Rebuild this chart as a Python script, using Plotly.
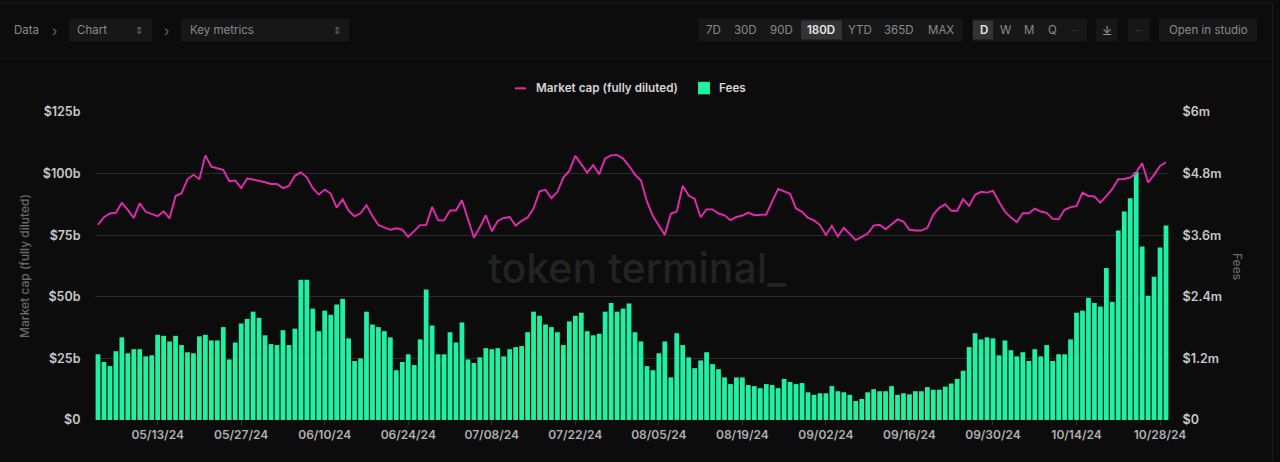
import plotly.graph_objects as go
import pandas as pd

START_DATE = "2024-05-03"
FEES_M = [1.28,1.13,1.05,1.34,1.61,1.30,1.38,1.38,1.24,1.26,1.66,1.64,1.53,1.64,1.46,1.32,1.30,1.63,1.66,1.55,1.55,1.81,1.18,1.51,1.88,1.97,2.11,1.99,1.65,1.48,
1.46,1.75,1.46,1.78,2.73,2.73,2.17,1.73,2.13,2.05,2.25,2.36,1.59,1.15,1.20,2.11,1.86,1.81,
1.73,1.61,0.97,1.13,1.28,1.07,1.57,2.54,1.84,1.28,1.28,1.71,1.51,1.90,1.18,1.11,1.22,1.40,1.38,1.40,1.24,1.38,1.42,1.44,1.71,2.11,2.03,1.86,1.81,1.71,1.46,1.92,
2.03,2.09,1.73,1.65,1.68,2.11,2.28,2.11,2.17,2.27,1.71,1.53,1.05,0.97,1.30,1.53,0.83,1.69,1.46,1.22,1.01,1.16,1.32,1.09,0.99,0.83,0.70,0.83,0.83,0.68,
0.66,0.62,0.70,0.68,0.62,0.80,0.74,0.70,0.72,0.54,0.49,0.52,0.52,0.66,0.56,0.54,0.49,0.37,0.41,0.54,0.60,0.56,0.56,0.66,0.49,0.52,0.50,0.56,0.56,0.64,
0.59,0.59,0.65,0.71,0.80,0.96,1.42,1.69,1.57,1.61,1.59,1.26,1.55,1.36,1.24,1.32,1.15,1.38,1.24,1.46,1.15,1.28,1.28,1.57,2.09,2.13,2.38,2.28,2.21,2.96,
2.30,3.69,4.06,4.32,4.83,3.38,2.42,2.79,3.36,3.79]
MCAP_B = [79.2,82.3,83.8,84.1,88.1,85.3,82.0,88.0,84.5,83.7,82.7,84.7,81.8,90.9,92.0,97.7,99.5,97.8,107.4,102.8,102.0,101.5,96.9,97.2,94.1,98.0,97.6,97.2,96.5,95.8,
95.8,94.1,95.0,99.1,100.5,98.5,94.1,91.5,93.5,91.9,86.2,89.6,85.0,82.7,83.9,87.2,82.8,79.1,
78.2,77.2,77.8,77.3,74.3,76.6,79.1,79.1,86.5,81.0,81.0,85.0,85.0,89.2,81.6,74.1,78.2,83.1,76.6,80.8,82.0,82.4,78.9,80.8,82.2,85.8,92.8,93.4,90.0,92.6,98.4,101.2,
107.2,103.9,100.4,103.4,99.7,106.2,107.4,107.6,106.1,103.2,99.6,97.2,88.7,82.8,79.2,75.1,83.7,84.6,95.1,91.1,89.7,82.3,85.5,85.5,83.8,83.1,81.1,82.4,83.0,84.2,
83.1,83.1,83.4,88.7,93.8,92.8,91.8,85.8,84.5,82.0,81.0,79.1,75.1,78.8,74.5,78.0,75.4,73.0,74.3,75.7,78.9,79.2,77.4,79.6,81.4,80.5,77.2,76.9,76.9,78.0,
83.4,86.1,87.6,84.9,84.9,89.6,86.9,91.4,92.6,92.3,93.0,88.6,84.6,82.2,80.3,83.9,83.9,85.8,84.6,84.1,81.6,81.5,85.3,86.4,86.8,92.3,90.9,90.7,88.2,90.9,
93.8,97.7,97.8,98.4,100.4,104.2,96.4,99.5,103.1,104.6]
DATES = pd.date_range(START_DATE, periods=len(FEES_M), freq="D")

X_TICKS = ["2024-05-13","2024-05-27","2024-06-10","2024-06-24","2024-07-08","2024-07-22","2024-08-05","2024-08-19","2024-09-02","2024-09-16","2024-09-30","2024-10-14","2024-10-28"]
MCAP_TICKS = [0,25,50,75,100,125]
MCAP_LABELS = ["$0","$25b","$50b","$75b","$100b","$125b"]
FEES_TICKS = [0,1.2,2.4,3.6,4.8,6]
FEES_LABELS = ["$0","$1.2m","$2.4m","$3.6m","$4.8m","$6m"]
RANGE_BTNS = [("7D",713),("30D",745),("90D",781),("180D",821),("YTD",860),("365D",899),("MAX",941)]
FREQ_BTNS = [("D",984),("W",1006),("M",1029),("Q",1052)]

BG = "#0c0c0d"; PILL = "#171718"; GRID = "#2b2b2b"; FONT = "Inter"
MAGENTA = "#e22cb0"; GREEN = "#20f0a2"
W, H = 1280, 462
L, R, T, B = 95, 111, 111.7, 41.6
PW, PH = W - L - R, H - T - B

fig = go.Figure()
fig.add_trace(go.Bar(x=DATES, y=FEES_M, name="Fees", marker=dict(color=GREEN, line_width=0), yaxis="y", xaxis="x"))
fig.add_trace(go.Scatter(x=DATES, y=MCAP_B, name="Market cap (fully diluted)", mode="lines",
                         line=dict(color=MAGENTA, width=1.9), yaxis="y2", xaxis="x"))

shapes, ann = [], []
def px_x(v): return (v - L) / PW
def px_y(v): return (H - B - v) / PH
def rect(x0, y0, x1, y1, fill, layer="below"):
    shapes.append(dict(type="rect", xref="paper", yref="paper", x0=px_x(x0), x1=px_x(x1), y0=px_y(y1), y1=px_y(y0),
                       fillcolor=fill, line=dict(color=fill, width=0), layer=layer))
def label(x, y, text, size=12, color="#8a8a8a", anchor="center", weight=400, angle=0):
    ann.append(dict(xref="paper", yref="paper", x=px_x(x), y=px_y(y), text=text, showarrow=False, xanchor=anchor, yanchor="middle",
                    textangle=angle, font=dict(family=FONT, size=size, color=color, weight=weight)))

# page chrome
rect(0, 57, 1272, 58, "#151516")
rect(1272, 3, 1273, 462, "#1c1c1d")
rect(0, 2, 1272, 3, "#1f1f20")
rect(69, 18, 152, 41, PILL)
rect(181, 18, 349, 41, PILL)
rect(698, 18, 962, 41, PILL)
rect(801, 20, 842, 39, "#343435")
rect(972, 18, 1087, 41, PILL)
rect(973, 20, 993, 39, "#343435")
rect(1096, 18, 1118, 41, PILL)
rect(1128, 18, 1150, 41, PILL)
rect(1159, 18, 1257, 41, PILL)
label(12, 30, "Data", 11.5, anchor="left")
label(54, 30, "›", 14, "#6a6a6a")
label(75, 30, "Chart", 11.5, anchor="left")
label(139, 30, "⇕", 10, "#6a6a6a")
label(166, 30, "›", 14, "#6a6a6a")
label(188, 30, "Key metrics", 11.5, anchor="left")
label(337, 30, "⇕", 10, "#6a6a6a")
for t, x in RANGE_BTNS:
    label(x, 30, t, 11.5, "#e8e8e8" if t == "180D" else "#8a8a8a", weight=600 if t == "180D" else 400)
for t, x in FREQ_BTNS:
    label(x, 30, t, 11.5, "#e8e8e8" if t == "D" else "#8a8a8a", weight=600 if t == "D" else 400)
label(1075, 30, "···", 9, "#4a4a4a")
label(1107, 30, "⤓", 12, "#9a9a9a")
label(1139, 30, "···", 9, "#5a5a5a")
label(1208, 30, "Open in studio", 11.5)

# legend
rect(515, 87, 526, 89, MAGENTA)
label(534, 88, "Market cap (fully diluted)", 11.7, "#d6d6d6", "left", 600)
rect(698, 81.5, 710, 94, GREEN)
label(717, 88, "Fees", 11.7, "#d6d6d6", "left", 600)

# watermark and right-hand axis title (it reads top to bottom in the reference)
label(637, 268, "token terminal_", 41, "#232324", weight=500)
label(1237, 266, "Fees", 12, "#686868", weight=500, angle=90)

TICK_FONT = dict(size=12.5, color="#c8c8c8", weight=600)
fig.update_layout(
    width=W, height=H, autosize=False, showlegend=False, bargap=0.2,
    paper_bgcolor=BG, plot_bgcolor=BG,
    margin=dict(l=L, r=R, t=T, b=B),
    font=dict(family=FONT, size=12, color="#b8b8b8"),
    shapes=shapes, annotations=ann,
    xaxis=dict(type="date", range=[DATES[0] - pd.Timedelta(hours=12), DATES[-1] + pd.Timedelta(hours=12)],
               tickvals=X_TICKS, tickformat="%m/%d/%y", showgrid=False, zeroline=False, showline=False,
               ticks="outside", ticklen=4, tickcolor="#333333", tickfont=dict(size=12, color="#b0b0b0", weight=600)),
    yaxis=dict(side="right", range=[0, 6], tickvals=FEES_TICKS, ticktext=FEES_LABELS, showgrid=False, zeroline=False,
               ticks="outside", ticklen=10, tickcolor="rgba(0,0,0,0)", tickfont=TICK_FONT),
    yaxis2=dict(side="left", overlaying="y", range=[0, 125], tickvals=MCAP_TICKS, ticktext=MCAP_LABELS, showgrid=True,
                gridcolor=GRID, gridwidth=1, zeroline=False, layer="below traces",
                ticks="outside", ticklen=11, tickcolor="rgba(0,0,0,0)", tickfont=TICK_FONT,
                title=dict(text="Market cap (fully diluted)", standoff=10, font=dict(size=12, color="#686868", weight=500))),
)
fig.write_html("out.html", config=dict(displayModeBar=False),
               post_script="document.body.style.margin='0';document.documentElement.style.background='#0c0c0d';")
